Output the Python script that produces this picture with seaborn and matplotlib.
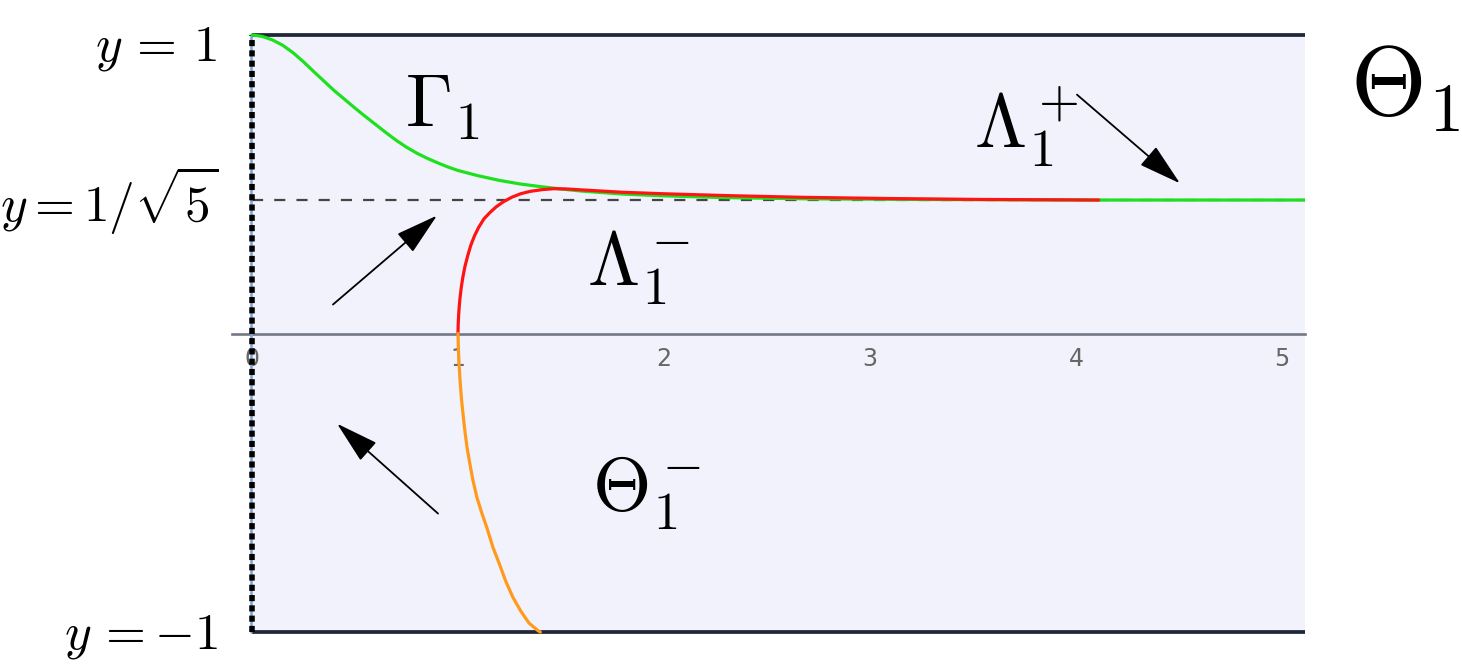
import numpy as np
import matplotlib
matplotlib.use("Agg")
from matplotlib import pyplot as plt
from matplotlib.ticker import MultipleLocator
import pandas as pd
import seaborn as sns

sns.set_theme(style="white")
plt.rcParams["mathtext.fontset"] = "cm"
plt.rcParams["font.family"] = ["DejaVu Sans"]
plt.rcParams["text.color"] = "black"

# curves
green_x = [0.0, 0.05, 0.1, 0.15, 0.2, 0.25, 0.3, 0.35, 0.4, 0.45, 0.5, 0.55, 0.6, 0.65,
           0.7, 0.75, 0.8, 0.85, 0.9, 0.95, 1.0, 1.1, 1.2, 1.3, 1.4, 1.5, 1.6, 1.8,
           2.0, 2.3, 2.7, 3.2, 4.1, 5.112]
green_y = [1.0, 0.995, 0.983, 0.965, 0.94, 0.91, 0.877, 0.845, 0.813, 0.784, 0.755, 0.727,
           0.70, 0.673, 0.647, 0.624, 0.604, 0.587, 0.572, 0.558, 0.546, 0.528, 0.513,
           0.501, 0.492, 0.484, 0.477, 0.467, 0.461, 0.455, 0.451, 0.449, 0.447, 0.447]

red_x = [1.0, 1.001, 1.003, 1.006, 1.01, 1.016, 1.024, 1.034, 1.047, 1.062, 1.08, 1.1,
         1.126, 1.155, 1.185, 1.22, 1.26, 1.304, 1.35, 1.41, 1.466, 1.53, 1.6, 1.7,
         1.8, 2.0, 2.3, 2.68, 3.1, 3.54, 4.11]
red_y = [0.0, 0.03, 0.06, 0.09, 0.12, 0.155, 0.19, 0.225, 0.26, 0.295, 0.327, 0.355,
         0.384, 0.405, 0.424, 0.441, 0.456, 0.468, 0.476, 0.482, 0.485, 0.484, 0.481,
         0.477, 0.473, 0.468, 0.462, 0.456, 0.452, 0.449, 0.447]

orange_x = [1.0, 1.002, 1.005, 1.01, 1.017, 1.026, 1.035, 1.044, 1.056, 1.072, 1.092,
            1.115, 1.14, 1.17, 1.2, 1.232, 1.267, 1.305, 1.345, 1.388, 1.40]
orange_y = [0.0, -0.05, -0.10, -0.157, -0.22, -0.28, -0.335, -0.382, -0.43, -0.49, -0.549,
            -0.60, -0.65, -0.717, -0.77, -0.83, -0.884, -0.93, -0.97, -0.995, -1.0]

x_max = 5.112
y_star = 1 / np.sqrt(5)
major_ticks = [0, 1, 2, 3, 4, 5]

# arrows (tail, head)
arrows = [((0.393, 0.097), (0.898, 0.395)),
          ((0.903, -0.603), (0.413, -0.302)),
          ((4.005, 0.80), (4.505, 0.503))]

green = pd.DataFrame({"x": green_x, "y": green_y})
red = pd.DataFrame({"x": red_x, "y": red_y})
orange = pd.DataFrame({"x": orange_x, "y": orange_y})

fig = plt.figure(figsize=(14.62, 6.66), dpi=100)
ax = fig.add_axes([232 / 1462, 19 / 666, 1073 / 1462, 627 / 666])
ax.set_xlim(-20 / 206, x_max)
ax.set_ylim(-1.05, 1.05)
ax.set_facecolor("white")

# shaded strip
ax.fill_between([0, x_max], -1, 1, color="#f2f2fc", zorder=0, lw=0)
ax.plot([0, x_max], [1, 1], color="#1f2838", lw=2.7, zorder=3, solid_capstyle="butt")
ax.plot([0, x_max], [-1, -1], color="#1f2838", lw=2.7, zorder=3, solid_capstyle="butt")

# dashed level line
ax.plot([0, x_max], [y_star, y_star], color="#444444", lw=1.6, dashes=(5, 5), zorder=2)

# left boundary
ax.plot([-0.006, -0.006], [-1, 1], color="#7aa3d6", lw=1.8, zorder=3)
ax.plot([0, 0], [-1, 1], color="black", lw=4.0, dashes=(1.1, 0.75), zorder=4)

sns.lineplot(data=green, x="x", y="y", ax=ax, color="#1ee01e", lw=2.3, zorder=5)
sns.lineplot(data=red, x="x", y="y", ax=ax, color="#ff1414", lw=2.3, zorder=6)
sns.lineplot(data=orange, x="x", y="y", ax=ax, color="#ff9a1c", lw=2.3, zorder=6)

for tail, head in arrows:
    ax.annotate("", xy=head, xytext=tail, zorder=7,
                arrowprops=dict(arrowstyle="-|>,head_length=1.35,head_width=0.38",
                                mutation_scale=20, lw=1.3, color="black",
                                shrinkA=0, shrinkB=0))

# axis at y = 0
for s in ["left", "top", "right"]:
    ax.spines[s].set_visible(False)
ax.spines["bottom"].set_position(("data", 0))
ax.spines["bottom"].set_color("#727884")
ax.spines["bottom"].set_linewidth(1.9)
ax.spines["bottom"].set_zorder(2)
ax.set_xticks(major_ticks)
ax.xaxis.set_minor_locator(MultipleLocator(0.2))
ax.tick_params(axis="x", which="major", direction="in", length=6.5, width=1.1,
               color="#555555", labelcolor="#666666", labelsize=17, pad=10)
ax.tick_params(axis="x", which="minor", direction="in", length=3.6, width=1.1,
               color="#555555")
ax.set_yticks([])
ax.set_xlabel("")
ax.set_ylabel("")

# labels
big = 54
ax.text(0.743, 0.69, r"$\Gamma_1$", fontsize=big, ha="left", va="baseline")
ax.text(1.626, 0.161, r"$\Lambda_1^-$", fontsize=big, ha="left", va="baseline")
ax.text(3.505, 0.62, r"$\Lambda_1^+$", fontsize=big, ha="left", va="baseline")
ax.text(1.65, -0.593, r"$\Theta_1^-$", fontsize=big, ha="left", va="baseline")

side = 37
ax.text(-0.17, 0.915, r"$y\,=\,1$", fontsize=side, ha="right", va="baseline", clip_on=False)
ax.text(-0.165, 0.372, r"$y=1/\sqrt{5}$", fontsize=side, ha="right", va="baseline", clip_on=False)
ax.text(-0.165, -1.055, r"$y\,=-1$", fontsize=side, ha="right", va="baseline", clip_on=False)

fig.text(1350 / 1462, 1 - 115 / 666, r"$\Theta_1$", fontsize=70, ha="left", va="baseline")

fig.savefig("out.png", dpi=100)
